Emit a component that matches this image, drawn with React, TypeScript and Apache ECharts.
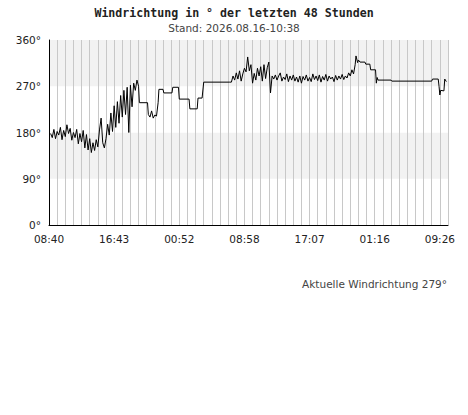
import React, { useEffect, useRef } from "react";
import * as echarts from "echarts";

const TITLE = "Windrichtung in ° der letzten 48 Stunden";
const SUBTITLE = "Stand: 2026.08.16-10:38";
const CURRENT = "Aktuelle Windrichtung 279°";

// x-axis: hours-grid units from the start of the window (one vertical grid line per unit)
const xTickLabels = ["08:40", "16:43", "00:52", "08:58", "17:07", "01:16", "09:26"];
const yTickLabels = ["0°", "90°", "180°", "270°", "360°"];

// noisy first part (units 0.2 .. 10.8)
const timesA = [
  0.2, 0.4, 0.6, 0.8, 1.0, 1.2, 1.4, 1.6, 1.8, 2.0, 2.2, 2.4, 2.6, 2.8, 3.0, 3.2, 3.4, 3.6, 3.8, 4.0,
  4.2, 4.4, 4.6, 4.8, 5.0, 5.2, 5.4, 5.6, 5.8, 6.0, 6.2, 6.4, 6.6, 6.8, 7.0, 7.2, 7.4, 7.6, 7.8, 8.0,
  8.2, 8.4, 8.6, 8.8, 9.0, 9.2, 9.4, 9.6, 9.8, 10.0, 10.2, 10.4, 10.6, 10.8,
];
const dirA = [
  178, 170, 186, 168, 182, 175, 190, 166, 184, 172, 195, 178, 188, 165, 180, 170, 186, 158, 178, 162,
  184, 150, 176, 146, 168, 141, 160, 145, 166, 152, 185, 208, 160, 150, 168, 196, 175, 218, 182, 232,
  190, 240, 198, 252, 210, 262, 215, 268, 180, 272, 230, 276, 262, 282,
];

// calmer, stepped middle part
const timesB = [
  11.0, 11.1, 12.1, 12.2, 12.4, 12.6, 12.8, 13.0, 13.2, 13.4, 13.5, 14.0, 14.1, 15.1, 15.2, 15.9,
  16.0, 17.2, 17.3, 18.2, 18.3, 18.8, 19.0, 22.2,
];
const dirB = [
  270, 238, 238, 215, 210, 222, 208, 214, 212, 238, 264, 264, 257, 257, 268, 268,
  245, 245, 226, 226, 247, 247, 278, 278,
];

// noisy second part (units 22.4 .. 37.7)
const timesC = [
  22.4, 22.6, 22.8, 23.0, 23.2, 23.4, 23.6, 23.8, 24.0, 24.2, 24.4, 24.6, 24.8, 25.0, 25.2, 25.4,
  25.6, 25.8, 26.0, 26.2, 26.4, 26.6, 26.8, 27.0, 27.2, 27.4, 27.6, 27.8, 28.0, 28.2, 28.4, 28.6,
  28.8, 29.0, 29.2, 29.4, 29.6, 29.8, 30.0, 30.2, 30.4, 30.6, 30.8, 31.0, 31.2, 31.4, 31.6, 31.8,
  32.0, 32.2, 32.4, 32.6, 32.8, 33.0, 33.2, 33.4, 33.6, 33.8, 34.0, 34.2, 34.4, 34.6, 34.8, 35.0,
  35.2, 35.4, 35.6, 35.8, 36.0, 36.2, 36.4, 36.6, 36.8, 37.0, 37.2, 37.4, 37.6, 37.7,
];
const dirC = [
  278, 290, 282, 296, 284, 300, 280, 294, 305, 298, 327, 300, 312, 276, 295, 282,
  305, 290, 308, 280, 312, 285, 306, 317, 257, 290, 284, 292, 282, 290, 296, 280,
  288, 283, 294, 279, 290, 282, 292, 280, 288, 278, 290, 276, 289, 282, 292, 280,
  287, 279, 294, 283, 290, 281, 292, 278, 289, 282, 293, 280, 290, 284, 288, 279,
  291, 282, 290, 284, 293, 283, 290, 286, 296, 290, 302, 294, 312, 329,
];

// stepped last part
const timesD = [
  37.9, 38.0, 38.2, 38.8, 38.9, 39.4, 39.5, 40.1, 40.2, 40.3, 40.4, 42.0, 42.1, 47.0, 47.1, 47.8,
  47.9, 48.0, 48.1, 48.5, 48.6, 48.8,
];
const dirD = [
  316, 321, 317, 317, 313, 313, 302, 302, 276, 287, 282, 282, 280, 280, 284, 284,
  270, 253, 262, 261, 284, 279,
];

const FONT = "'DejaVu Sans', sans-serif";
const FS = 10.5;

export default function App() {
  const ref = useRef<HTMLDivElement>(null);

  useEffect(() => {
    document.body.style.margin = "0";
    if (!ref.current) return;
    const chart = echarts.init(ref.current, null, { renderer: "svg" });
    const times = [...timesA, ...timesB, ...timesC, ...timesD];
    const dirs = [...dirA, ...dirB, ...dirC, ...dirD];
    const data = times.map((t, i) => [t, dirs[i]]);

    chart.setOption({
      animation: false,
      backgroundColor: "#ffffff",
      title: {
        text: TITLE,
        subtext: SUBTITLE,
        left: "center",
        top: 2,
        itemGap: 3,
        textStyle: {
          fontFamily: "'DejaVu Sans Mono', monospace",
          fontWeight: "bold",
          fontSize: 11.6,
          color: "#222",
        },
        subtextStyle: { fontFamily: FONT, fontSize: FS, color: "#444" },
      },
      grid: { left: 49, top: 40, right: 20, bottom: 190 },
      xAxis: {
        type: "value",
        min: 0,
        max: 49,
        interval: 1,
        axisLine: { show: true, lineStyle: { color: "#000", width: 1 } },
        axisTick: { show: false },
        axisLabel: {
          showMinLabel: true,
          showMaxLabel: false,
          margin: 8,
          fontFamily: FONT,
          fontSize: FS,
          color: "#222",
          formatter: (v: number) => {
            const k = Math.round(v);
            return k % 8 === 0 && k / 8 < xTickLabels.length ? xTickLabels[k / 8] : "";
          },
        },
        splitLine: { show: true, lineStyle: { color: "#c8c8c8", width: 1 } },
      },
      yAxis: {
        type: "value",
        min: 0,
        max: 360,
        interval: 90,
        axisLine: { show: true, lineStyle: { color: "#000", width: 1 } },
        axisTick: { show: false },
        axisLabel: {
          margin: 8,
          fontFamily: FONT,
          fontSize: FS,
          color: "#222",
          formatter: (v: number) => yTickLabels[Math.round(v / 90)],
        },
        splitLine: { show: false },
        splitArea: { show: true, areaStyle: { color: ["#ffffff", "#f2f2f2"] } },
      },
      graphic: [
        {
          type: "text",
          right: 21,
          top: 278,
          style: { text: CURRENT, font: `${FS}px 'DejaVu Sans', sans-serif`, fill: "#444" },
        },
      ],
      series: [
        {
          type: "line",
          data,
          showSymbol: false,
          symbol: "none",
          lineStyle: { color: "#000", width: 1 },
          z: 5,
        },
      ],
    });
    return () => chart.dispose();
  }, []);

  return <div ref={ref} style={{ width: 468, height: 415 }} />;
}
